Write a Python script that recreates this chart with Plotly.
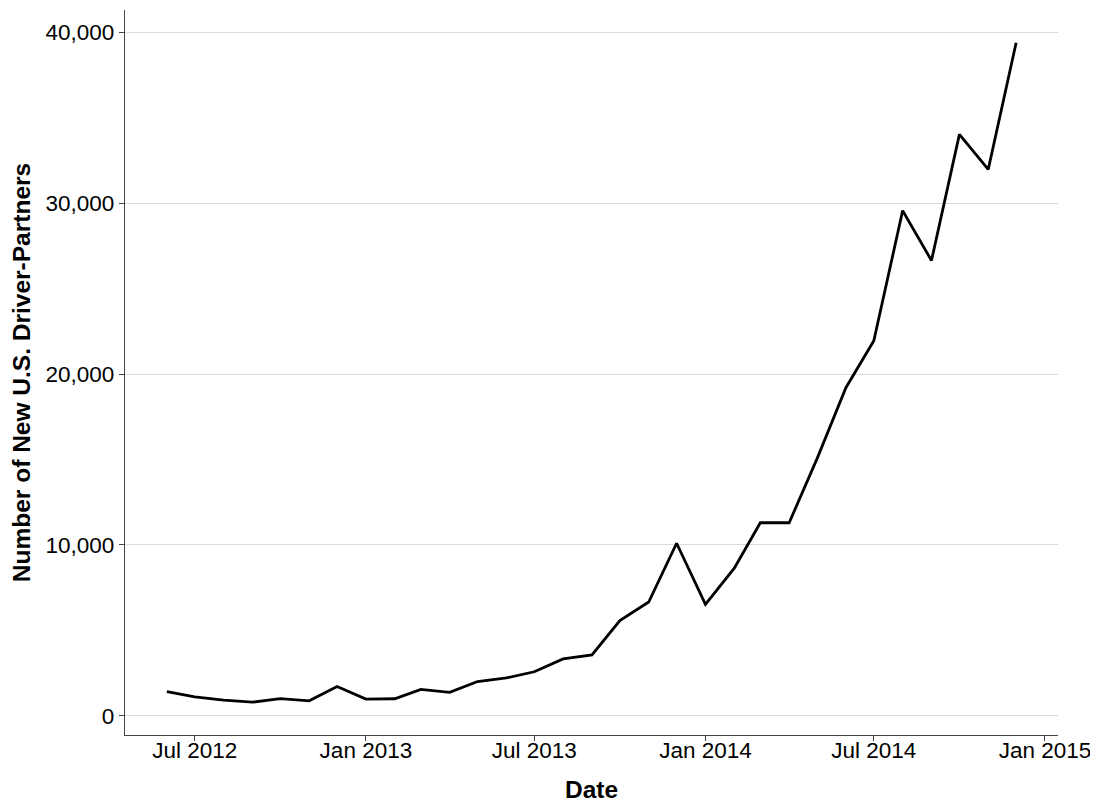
import plotly.graph_objects as go

months = ["2012-06-01", "2012-07-01", "2012-08-01", "2012-09-01", "2012-10-01", "2012-11-01",
          "2012-12-01", "2013-01-01", "2013-02-01", "2013-03-01", "2013-04-01", "2013-05-01",
          "2013-06-01", "2013-07-01", "2013-08-01", "2013-09-01", "2013-10-01", "2013-11-01",
          "2013-12-01", "2014-01-01", "2014-02-01", "2014-03-01", "2014-04-01", "2014-05-01",
          "2014-06-01", "2014-07-01", "2014-08-01", "2014-09-01", "2014-10-01", "2014-11-01",
          "2014-12-01"]
new_drivers = [1420, 1110, 920, 800, 1010, 880,
               1720, 980, 1000, 1550, 1380, 2010,
               2220, 2580, 3330, 3570, 5570, 6660,
               10100, 6530, 8640, 11300, 11300, 15050,
               19200, 21950, 29560, 26640, 34020, 31970,
               39380]

tick_dates = ["2012-07-01", "2013-01-01", "2013-07-01", "2014-01-01", "2014-07-01", "2015-01-01"]
tick_labels = ["Jul 2012", "Jan 2013", "Jul 2013", "Jan 2014", "Jul 2014", "Jan 2015"]
y_ticks = [0, 10000, 20000, 30000, 40000]
y_labels = ["0", "10,000", "20,000", "30,000", "40,000"]

fig = go.Figure()
fig.add_trace(go.Scatter(x=months, y=new_drivers, mode="lines",
                         line=dict(color="black", width=2.8), showlegend=False))

font_family = "Liberation Sans, Arial, sans-serif"
fig.update_layout(
    width=1090, height=795,
    margin=dict(l=117, r=40, t=2, b=68, autoexpand=False),
    plot_bgcolor="white", paper_bgcolor="white",
    font=dict(family=font_family, size=22, color="black"),
)
fig.update_xaxes(
    range=["2012-04-17", "2015-01-15"],
    tickvals=tick_dates, ticktext=tick_labels,
    showgrid=False, zeroline=False, automargin=False,
    showline=True, linecolor="#444444", linewidth=1.3,
    ticks="outside", ticklen=5, tickcolor="#444444", tickwidth=1.3,
    ticklabelstandoff=-10,
    tickfont=dict(size=22.5, color="black"),
    title=dict(text="<b>Date</b>", font=dict(size=24.5), standoff=21),
)
fig.update_yaxes(
    range=[-1120, 41300],
    tickvals=y_ticks, ticktext=y_labels,
    showgrid=True, gridcolor="#d9d9d9", gridwidth=1.4,
    zeroline=False, automargin=False,
    showline=True, linecolor="#444444", linewidth=1.3,
    ticks="outside", ticklen=5, tickcolor="#444444", tickwidth=1.3,
    tickfont=dict(size=22.5, color="black"),
    title=dict(text="<b>Number of New U.S. Driver-Partners</b>", font=dict(size=24.5), standoff=9),
)

fig.write_html("out.html")
